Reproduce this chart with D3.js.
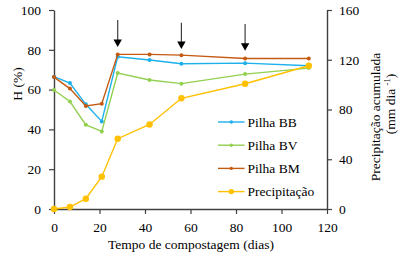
<!DOCTYPE html>
<html><head><meta charset="utf-8">
<script src="https://cdn.jsdelivr.net/npm/d3@7"></script>
<style>body{margin:0;background:#fff}svg{display:block}</style>
</head><body><svg id="c" width="401" height="255" font-family="Liberation Serif"></svg>
<script>
const days = [0, 7, 14, 21, 28, 42, 56, 84, 112];
const pilhaBB = [66.5, 63.3, 52.6, 44.0, 76.5, 74.9, 73.0, 73.3, 72.0];
const pilhaBV = [59.8, 54.0, 42.3, 39.0, 68.3, 64.8, 63.0, 67.8, 70.8];
const pilhaBM = [66.3, 60.5, 51.8, 52.9, 77.7, 77.7, 77.3, 75.6, 75.6];
const precip = [0, 1.6, 8.3, 26.0, 56.5, 68.0, 89.0, 100.7, 115.2];
const xTicks = [0, 20, 40, 60, 80, 100, 120];
const yLeftTicks = [0, 20, 40, 60, 80, 100];
const yRightTicks = [0, 40, 80, 120, 160];
const arrowDays = [28, 56, 84];
const arrowTop = [95, 93.6, 93];
const arrowTip = [81.4, 80.4, 79.5];

const series = [
  {name: "Pilha BB", values: pilhaBB, color: "#1CB0EC", axis: "L", r: 2},
  {name: "Pilha BV", values: pilhaBV, color: "#92D050", axis: "L", r: 2},
  {name: "Pilha BM", values: pilhaBM, color: "#C55A11", axis: "L", r: 2},
  {name: "Precipitação", values: precip, color: "#FFC000", axis: "R", r: 3.2}
];

const FONT = "Liberation Serif";
const svg = d3.select("#c");
const x = d3.scaleLinear().domain([0, 120]).range([54, 327]);
const yL = d3.scaleLinear().domain([0, 100]).range([209, 10]);
const yR = d3.scaleLinear().domain([0, 160]).range([209, 10]);
const axisColor = "#404040";
const fs = 13.5;

function styleAxis(g) {
  g.attr("font-family", FONT);
  g.selectAll("path").attr("stroke", axisColor).attr("stroke-width", 1.4);
  g.selectAll("line").attr("stroke", axisColor).attr("stroke-width", 1.2);
  g.selectAll("text").attr("font-family", FONT).attr("font-size", fs).attr("fill", "#000");
}

svg.append("g").attr("transform", "translate(0,209)")
  .call(d3.axisBottom(x).tickValues(xTicks).tickSize(5).tickSizeOuter(0).tickPadding(8))
  .call(styleAxis);
svg.append("g").attr("transform", "translate(54,0)")
  .call(d3.axisLeft(yL).tickValues(yLeftTicks).tickSize(5).tickSizeOuter(0).tickPadding(8))
  .call(styleAxis);
svg.append("g").attr("transform", "translate(327,0)")
  .call(d3.axisRight(yR).tickValues(yRightTicks).tickSize(5).tickSizeOuter(0).tickPadding(7))
  .call(styleAxis);

// series
series.forEach(s => {
  const yS = s.axis === "L" ? yL : yR;
  const pts = days.map((d, i) => [x(d), yS(s.values[i])]);
  svg.append("path").attr("d", d3.line()(pts)).attr("fill", "none")
    .attr("stroke", s.color).attr("stroke-width", 1.4);
  svg.append("g").selectAll("circle").data(pts).join("circle")
    .attr("cx", p => p[0]).attr("cy", p => p[1]).attr("r", s.r).attr("fill", s.color);
});

// arrows
arrowDays.forEach((d, i) => {
  const ax = x(d), y0 = yL(arrowTop[i]), y1 = yL(arrowTip[i]);
  svg.append("line").attr("x1", ax).attr("x2", ax).attr("y1", y0).attr("y2", y1 - 6)
    .attr("stroke", "#404040").attr("stroke-width", 1.2);
  svg.append("path").attr("d", `M${ax - 4.2},${y1 - 7.5}L${ax + 4.2},${y1 - 7.5}L${ax},${y1}Z`).attr("fill", "#000");
});

// legend
const lg = svg.append("g");
series.forEach((s, i) => {
  const ly = 122 + i * 23.2;
  lg.append("line").attr("x1", 218).attr("x2", 244.5).attr("y1", ly).attr("y2", ly)
    .attr("stroke", s.color).attr("stroke-width", 1.4);
  lg.append("circle").attr("cx", 231.3).attr("cy", ly).attr("r", s.r * 0.85).attr("fill", s.color);
  lg.append("text").attr("x", 247.5).attr("y", ly).attr("dy", "0.35em")
    .attr("font-family", FONT).attr("font-size", fs).text(s.name);
});

// axis titles
svg.append("text").attr("x", 191).attr("y", 248.5).attr("text-anchor", "middle")
  .attr("font-family", FONT).attr("font-size", fs).text("Tempo de compostagem (dias)");
svg.append("text").attr("transform", "translate(22,84) rotate(-90)").attr("text-anchor", "middle")
  .attr("font-family", FONT).attr("font-size", fs).text("H (%)");
svg.append("text").attr("transform", "translate(379.5,117) rotate(-90)").attr("text-anchor", "middle")
  .attr("font-family", FONT).attr("font-size", fs).text("Precipitação acumulada");
const t2 = svg.append("text").attr("transform", "translate(395,104) rotate(-90)").attr("text-anchor", "middle")
  .attr("font-family", FONT).attr("font-size", fs);
t2.append("tspan").text("(mm dia ");
t2.append("tspan").attr("font-size", 8.5).attr("dy", -5).text("-1");
t2.append("tspan").attr("dy", 5).text(")");
</script></body></html>
